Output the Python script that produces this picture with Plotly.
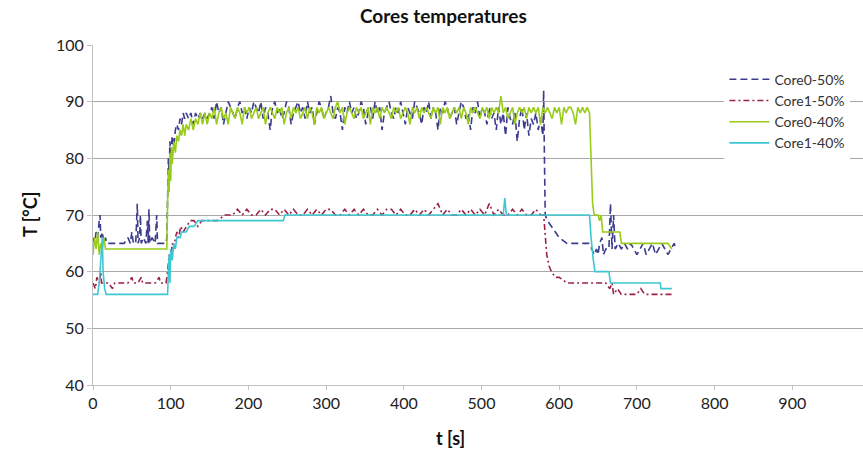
import plotly.graph_objects as go

# ---------------- data ----------------
# Core0-50% (navy dashed)
c050_t_a = [0, 2, 4, 6, 8, 9, 10, 12, 14, 16, 18, 20, 25, 30, 35, 40, 45, 48, 50, 52, 55, 57, 58, 60, 61, 62,
            65, 68, 70, 71, 72, 73, 76, 80, 82, 83, 86, 90, 94,
            95, 96, 97, 98, 99, 100, 102, 104, 106, 108, 110, 112, 114, 116, 118, 120, 123, 126, 129, 132, 135,
            138, 141, 144, 147]
c050_v_a = [66, 65, 67, 66, 69, 70, 66, 67, 65, 66, 65, 65, 65, 65, 65, 65, 66, 65, 67, 65, 65, 72, 65, 66, 70, 65,
            66, 65, 69, 65, 71, 65, 66, 65, 70, 65, 65, 65, 65,
            66, 75, 80, 77, 83, 80, 84, 82, 85, 86, 85, 87, 86, 88, 87, 88, 87, 88, 86, 88, 87,
            88, 87, 88, 87]
c050_plateau = [
    88, 89, 87, 90, 88, 89, 86, 88, 90, 89, 88, 87, 89, 90, 88, 89, 87, 89, 88, 90,
    89, 88, 90, 87, 89, 88, 85, 89, 90, 88, 89, 87, 88, 90, 89, 86, 88, 89, 90, 88,
    89, 87, 90, 88, 89, 86, 88, 90, 89, 87, 88, 89, 91, 88, 87, 89, 88, 85, 89, 88,
    90, 88, 89, 87, 88, 90, 89, 86, 88, 89, 87, 90, 88, 89, 85, 88, 89, 90, 88, 87,
    89, 88, 90, 88, 86, 89, 88, 87, 90, 89, 88, 86, 89, 88, 90, 87, 89, 88, 85, 89,
    88, 90, 89, 87, 88, 89, 86, 88, 90, 89, 87, 88, 85, 89, 88, 90, 87, 89, 88, 86,
    89, 87, 88, 85, 89, 86, 88, 84, 89, 87, 86, 88, 83, 87, 89, 85, 88, 84, 87, 86,
    88, 85, 87, 84]
c050_t_b = [580, 581, 582, 585, 590, 595, 600, 610, 620, 630, 638, 642, 645, 648, 650, 652, 655, 657, 660, 664,
            666, 668, 670, 672, 676, 680, 684, 688, 692, 696, 700, 704, 708, 712, 716, 720, 724, 728, 732, 736,
            740, 744, 748, 750]
c050_v_b = [92, 80, 70, 69, 68, 67, 66, 65, 65, 65, 65, 64, 63, 64, 63, 65, 66, 63, 64, 64,
            72, 64, 70, 64, 65, 64, 65, 64, 65, 64, 63, 64, 65, 63, 64, 65, 63, 64, 65, 64,
            63, 64, 65, 64]

# Core1-50% (dark red dash-dot)
c150_t_a = [0, 3, 5, 8, 10, 11, 15, 20, 25, 28, 35, 40, 45, 50, 52, 58, 62, 64, 70, 80, 85, 87, 94,
            96, 98, 100, 102, 104, 106, 108, 110, 113, 116, 120, 125, 130, 135, 140, 150, 160, 170, 180]
c150_v_a = [58, 57, 59, 58, 60, 58, 58, 58, 57, 58, 58, 58, 58, 59, 58, 58, 59, 58, 58, 58, 59, 58, 58,
            60, 63, 62, 65, 64, 66, 67, 66, 68, 67, 68, 69, 69, 68, 69, 69, 69, 70, 70]
c150_plateau = [
    71, 70, 71, 70, 70, 71, 70, 71, 71, 70, 71, 70, 71, 70, 70, 71, 70, 71, 70, 71,
    71, 70, 70, 71, 70, 71, 70, 71, 70, 70, 71, 70, 71, 71, 70, 71, 70, 70, 71, 70,
    71, 70, 71, 72, 70, 71, 70, 70, 71, 70, 71, 70, 71, 70, 72, 70, 71, 70, 70, 71,
    70, 71, 70, 70, 71, 70]
c150_t_b = [580, 582, 584, 587, 590, 595, 600, 610, 620, 630, 640, 650, 660, 665, 668, 670, 675, 680, 690,
            700, 705, 710, 720, 730, 740, 748]
c150_v_b = [70, 66, 63, 61, 60, 59, 59, 58, 58, 58, 58, 58, 58, 57, 58, 56, 57, 56, 56,
            56, 57, 56, 56, 56, 56, 56]

# Core0-40% (green solid)
c040_t_a = [0, 2, 4, 6, 8, 10, 12, 14, 16, 18, 30, 50, 70, 94,
            95, 96, 97, 98, 99, 100, 101, 102, 104, 106, 108, 110, 112, 114, 116, 118, 120, 123, 126, 129,
            132, 135, 138, 141, 144, 147]
c040_v_a = [63, 66, 64, 67, 63, 65, 64, 66, 64, 64, 64, 64, 64, 64,
            64, 72, 78, 74, 81, 76, 82, 79, 83, 81, 84, 83, 85, 84, 86, 84, 86, 85, 87, 85,
            87, 86, 88, 86, 88, 86]
c040_plateau = [
    88, 87, 89, 86, 88, 89, 87, 88, 86, 89, 88, 87, 89, 88, 86, 89, 88, 89, 87, 88,
    89, 87, 88, 89, 86, 88, 89, 88, 87, 89, 88, 89, 86, 88, 89, 87, 89, 88, 89, 87,
    88, 89, 87, 89, 88, 86, 89, 88, 89, 87, 88, 89, 88, 87, 89, 90, 88, 89, 86, 88,
    89, 88, 87, 89, 88, 89, 87, 88, 89, 86, 89, 88, 89, 87, 89, 88, 89, 88, 87, 89,
    88, 89, 87, 88, 89, 88, 86, 89, 88, 89, 87, 89, 88, 89, 88, 87, 89, 88, 89, 86,
    89, 88, 89, 87, 88, 89, 88, 89, 87, 89, 88, 86, 89, 88, 89, 88, 87, 89, 88, 89,
    87, 89, 88, 89, 88, 91, 88, 89, 87, 88, 89, 86, 88, 89, 88, 89, 87, 89, 88, 89,
    88, 89, 86, 89, 88, 89, 88, 87, 89, 88, 89, 86, 89, 88, 89, 89, 88, 86, 89, 88,
    89, 88, 89, 88]
c040_t_b = [641, 643, 645, 650, 652, 654, 656, 660, 670, 678, 680, 690, 700, 710, 720, 730, 740, 745]
c040_v_b = [80, 72, 70, 70, 69, 70, 67, 67, 67, 67, 65, 65, 65, 65, 65, 65, 65, 64]

# Core1-40% (cyan solid)
c140_t = [0, 6, 8, 10, 12, 13, 15, 17, 30, 50, 70, 96, 97, 98, 99, 100, 102, 104, 106, 108, 112, 114, 120,
          124, 130, 135, 160, 165, 245, 247, 528, 530, 532, 639, 641, 644, 646, 664, 666, 728, 730, 731, 745]
c140_v = [56, 56, 58, 62, 66, 60, 57, 56, 56, 56, 56, 56, 60, 63, 58, 64, 62, 65, 64, 66, 66, 67, 67,
          68, 68, 69, 69, 69, 69, 70, 70, 73, 70, 70, 66, 62, 60, 60, 58, 58, 58, 57, 57]

x_ticks = [0, 100, 200, 300, 400, 500, 600, 700, 800, 900]
y_ticks = [40, 50, 60, 70, 80, 90, 100]


def grid(start, step, n):
    return [start + step * i for i in range(n)]


c050_t = c050_t_a + grid(150, 3, len(c050_plateau)) + c050_t_b
c050_v = c050_v_a + c050_plateau + c050_v_b
c150_t = c150_t_a + grid(186, 6, len(c150_plateau)) + c150_t_b
c150_v = c150_v_a + c150_plateau + c150_v_b
c040_t = c040_t_a + grid(150, 3, len(c040_plateau)) + c040_t_b
c040_v = c040_v_a + c040_plateau + c040_v_b

FONT = "Lato, 'Open Sans', sans-serif"

fig = go.Figure()
fig.add_trace(go.Scatter(x=c050_t, y=c050_v, mode="lines", name="Core0-50%",
                         line=dict(color="#3c3c8e", width=1.6, dash="7px,4px")))
fig.add_trace(go.Scatter(x=c150_t, y=c150_v, mode="lines", name="Core1-50%",
                         line=dict(color="#9b2247", width=1.6, dash="6px,3px,2px,3px")))
fig.add_trace(go.Scatter(x=c040_t, y=c040_v, mode="lines", name="Core0-40%",
                         line=dict(color="#99cc1a", width=1.6)))
fig.add_trace(go.Scatter(x=c140_t, y=c140_v, mode="lines", name="Core1-40%",
                         line=dict(color="#3cc8d2", width=1.6)))

fig.update_layout(
    width=863, height=453,
    margin=dict(l=93, r=0, t=45, b=68),
    paper_bgcolor="white", plot_bgcolor="white",
    font=dict(family=FONT, color="#222222", size=14),
    showlegend=True,
    legend=dict(x=0.82, y=0.945, xanchor="left", yanchor="top",
                bgcolor="white", font=dict(size=14, color="#333333"),
                tracegroupgap=0, itemwidth=40),
    xaxis=dict(range=[0, 991], tickvals=x_ticks, showgrid=False, zeroline=False,
               showline=True, linecolor="#c0c0c0", linewidth=1,
               ticks="outside", ticklen=4, tickcolor="#c0c0c0",
               tickfont=dict(size=16, color="#222222")),
    yaxis=dict(range=[40, 100], tickvals=y_ticks, showgrid=True, gridcolor="#a8a8a8", gridwidth=1,
               zeroline=False, showline=True, linecolor="#c0c0c0", linewidth=1,
               ticks="outside", ticklen=5, tickcolor="#c0c0c0",
               tickfont=dict(size=16, color="#222222")),
    annotations=[
        dict(text="<b>Cores temperatures</b>", xref="paper", yref="paper",
             x=(443 - 93) / 770, y=1 + 30 / 340, xanchor="center", yanchor="middle",
             showarrow=False, font=dict(size=19, family=FONT, color="#111111")),
        dict(text="<b>t [s]</b>", xref="paper", yref="paper",
             x=(450 - 93) / 770, y=-53 / 340, xanchor="center", yanchor="middle",
             showarrow=False, font=dict(size=18, family=FONT, color="#111111")),
        dict(text="<b>T [°C]</b>", xref="paper", yref="paper",
             x=-63 / 770, y=(385 - 215) / 340, xanchor="center", yanchor="middle", textangle=-90,
             showarrow=False, font=dict(size=18, family=FONT, color="#111111")),
    ],
)

fig.write_html("out.html")
